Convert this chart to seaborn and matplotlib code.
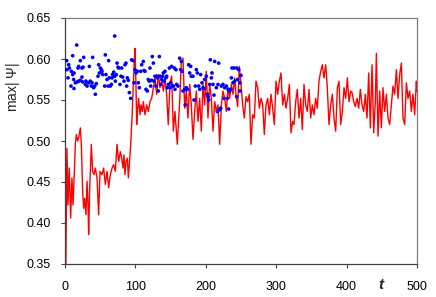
import matplotlib
matplotlib.use("Agg")
import matplotlib.pyplot as plt
import seaborn as sns

# red curve: max|Psi| versus t
t_red = [0, 1, 2.8, 4.2, 6.1, 8.0, 9.9, 11.4, 12.8, 14.7,
         16.1, 18.0, 19.4, 21.8, 23.2, 25.1, 26.5, 27.9, 29.8, 31.3,
         32.7, 33.6, 35.0, 37.4, 39.3, 41.2, 43.1, 45.5, 47.8, 49.7,
         52.6, 54.9, 57.3, 59.7, 62.0, 64.4, 66.8, 69.1, 71.5, 73.9,
         76.2, 78.6, 80.5, 82.4, 83.8, 85.2, 86.7, 88.6, 90.0, 91.4,
         93.3, 95.2, 97.0, 98.4, 99.4, 100.8, 101.8, 103.2, 104.6, 106.5,
         107.9, 109.8, 111.3, 113.6, 116.0, 118.4, 120.7, 123.1, 125.5, 127.8,
         130.2, 132.6, 134.9, 137.3, 139.7, 142.0, 144.4, 146.7, 149.1, 151.5,
         153.9, 156.2, 159.5, 162.9, 165.2, 167.6, 170.0, 172.3, 174.7, 177.1,
         179.4, 181.8, 184.2, 186.5, 188.9, 191.3, 193.6, 196.0, 198.4, 200.7,
         203.1, 205.5, 207.9, 210.2, 212.6, 215.0, 217.3, 219.7, 222.1, 224.4,
         226.8, 229.2, 231.5, 233.9, 236.3, 238.6, 241.0, 242.9, 245.3, 247.6,
         250.0, 252.4, 254.7, 257.1, 259.5, 261.8, 264.2, 266.6, 268.9, 271.3,
         273.7, 276.0, 278.4, 280.8, 283.1, 285.5, 287.9, 290.3, 292.6, 295.0,
         297.4, 299.7, 302.1, 304.5, 306.8, 309.2, 311.6, 313.9, 316.3, 318.7,
         321.0, 323.4, 325.3, 327.7, 330.0, 332.4, 334.8, 337.1, 339.5, 341.9,
         344.2, 346.6, 349.0, 351.3, 353.7, 356.1, 358.4, 360.8, 363.2, 365.5,
         367.9, 370.3, 372.6, 375.0, 377.4, 379.8, 382.1, 384.5, 386.9, 389.2,
         391.6, 394.0, 396.3, 398.7, 401.1, 403.4, 405.8, 407.7, 410.1, 412.4,
         414.8, 417.2, 419.5, 421.9, 424.3, 426.6, 429.0, 431.4, 433.7, 436.1,
         438.5, 440.8, 442.3, 444.6, 447.0, 449.4, 451.7, 454.1, 456.5, 458.8,
         461.2, 463.6, 465.9, 468.3, 470.7, 473.0, 475.4, 477.8, 480.1, 482.5,
         484.9, 487.2, 489.6, 492.0, 494.3, 496.7, 499.1, 500]
psi_red = [0.660, 0.330, 0.491, 0.422, 0.467, 0.406, 0.455, 0.422, 0.451, 0.496,
           0.508, 0.500, 0.504, 0.516, 0.496, 0.439, 0.418, 0.430, 0.410, 0.451,
           0.422, 0.386, 0.439, 0.496, 0.463, 0.459, 0.467, 0.455, 0.410, 0.463,
           0.459, 0.467, 0.447, 0.463, 0.443, 0.459, 0.467, 0.471, 0.463, 0.496,
           0.475, 0.487, 0.479, 0.467, 0.483, 0.459, 0.475, 0.479, 0.455, 0.471,
           0.496, 0.528, 0.569, 0.597, 0.613, 0.569, 0.520, 0.540, 0.552, 0.532,
           0.544, 0.536, 0.548, 0.532, 0.544, 0.536, 0.548, 0.552, 0.565, 0.577,
           0.557, 0.581, 0.565, 0.573, 0.561, 0.577, 0.557, 0.520, 0.569, 0.579,
           0.512, 0.536, 0.496, 0.548, 0.597, 0.601, 0.540, 0.561, 0.528, 0.569,
           0.544, 0.502, 0.536, 0.561, 0.524, 0.552, 0.512, 0.569, 0.544, 0.585,
           0.528, 0.569, 0.552, 0.512, 0.548, 0.536, 0.544, 0.496, 0.544, 0.561,
           0.552, 0.536, 0.565, 0.552, 0.569, 0.557, 0.577, 0.557, 0.542, 0.591,
           0.569, 0.544, 0.528, 0.554, 0.548, 0.557, 0.496, 0.532, 0.528, 0.573,
           0.565, 0.540, 0.552, 0.544, 0.508, 0.544, 0.552, 0.532, 0.557, 0.540,
           0.520, 0.573, 0.557, 0.573, 0.583, 0.544, 0.557, 0.540, 0.552, 0.569,
           0.510, 0.524, 0.520, 0.548, 0.563, 0.528, 0.552, 0.514, 0.569, 0.544,
           0.536, 0.563, 0.528, 0.544, 0.532, 0.552, 0.540, 0.573, 0.585, 0.593,
           0.577, 0.593, 0.565, 0.520, 0.544, 0.557, 0.528, 0.512, 0.565, 0.573,
           0.520, 0.536, 0.565, 0.552, 0.577, 0.548, 0.561, 0.559, 0.548, 0.542,
           0.552, 0.540, 0.563, 0.544, 0.536, 0.557, 0.528, 0.583, 0.516, 0.593,
           0.510, 0.548, 0.607, 0.506, 0.561, 0.516, 0.565, 0.536, 0.557, 0.528,
           0.520, 0.544, 0.567, 0.557, 0.587, 0.552, 0.581, 0.595, 0.528, 0.520,
           0.571, 0.552, 0.561, 0.536, 0.557, 0.532, 0.573, 0.560]

# blue dots
t_dots = [2.4, 5.2, 6.2, 2.8, 9.0, 4.3, 10.9, 12.8, 12.3, 14.7,
          16.6, 10.9, 8.5, 12.8, 17.0, 19.4, 21.8, 18.5, 19.4, 21.8,
          24.1, 25.6, 26.5, 24.1, 25.1, 28.9, 29.8, 31.3, 33.6, 34.6,
          36.0, 37.4, 38.4, 39.3, 40.7, 42.1, 43.1, 44.5, 46.9, 47.8,
          48.8, 50.2, 51.6, 52.6, 53.5, 56.3, 57.3, 58.2, 59.7, 61.1,
          62.0, 63.0, 64.4, 65.8, 66.8, 67.7, 69.1, 70.6, 70.6, 71.5,
          72.9, 73.9, 75.3, 76.2,
          78.1, 79.5, 80.5, 81.9, 83.8, 85.2, 86.6, 87.6, 88.5, 89.9,
          91.4, 93.3, 94.7, 97.0, 98.0, 99.4, 100.8, 102.7, 104.1, 105.6,
          107.5, 108.9, 111.2, 112.2, 113.6, 115.0, 116.9, 118.3, 119.8, 120.7,
          121.7, 123.1, 124.0, 125.5, 126.4, 127.8, 129.2, 130.2, 131.1, 132.6,
          134.0, 134.9, 135.9, 137.3, 138.7, 139.7, 140.6, 142.0, 143.4, 144.4,
          145.3, 146.8, 148.2, 149.1, 150.1, 151.5, 152.9, 153.9, 155.3, 156.2,
          157.6, 158.6,
          162.9, 165.2, 164.3, 166.2, 160.5, 167.6, 170.0, 172.3, 170.9, 173.8,
          175.7, 178.5, 177.1, 179.4, 181.8, 183.2, 185.1, 186.5, 188.0, 189.9,
          191.3, 192.7, 194.6, 196.0, 197.4, 198.4, 200.7, 202.2, 203.1, 204.1,
          205.5, 206.4, 207.9, 208.8, 210.2, 211.6, 212.6, 215.0, 216.4, 217.3,
          218.3, 219.7, 221.1, 222.1, 224.4, 225.8, 226.8, 229.2, 230.6, 231.5,
          232.5, 233.9, 235.3, 236.3, 237.2, 238.6, 240.0, 241.0,
          243.8, 246.7, 245.3, 248.6, 250.0, 243.8, 248.6]
psi_dots = [0.598, 0.593, 0.589, 0.587, 0.585, 0.577, 0.581, 0.583, 0.575, 0.571,
            0.617, 0.604, 0.567, 0.564, 0.572, 0.573, 0.574, 0.589, 0.591, 0.598,
            0.589, 0.590, 0.602, 0.578, 0.572, 0.569, 0.573, 0.567, 0.571, 0.591,
            0.573, 0.567, 0.571, 0.602, 0.565, 0.567, 0.557, 0.570, 0.579, 0.593,
            0.583, 0.589, 0.587, 0.585, 0.581, 0.567, 0.605, 0.581, 0.575, 0.567,
            0.598, 0.577, 0.567, 0.569, 0.577, 0.581, 0.584, 0.628, 0.579, 0.573,
            0.581, 0.595, 0.590, 0.589,
            0.569, 0.579, 0.589, 0.578, 0.573, 0.593, 0.595, 0.567, 0.577, 0.574,
            0.559, 0.552, 0.599, 0.598, 0.571, 0.587, 0.583, 0.585, 0.571, 0.565,
            0.585, 0.593, 0.597, 0.586, 0.585, 0.563, 0.561, 0.575, 0.573, 0.589,
            0.567, 0.574, 0.603, 0.595, 0.573, 0.579, 0.567, 0.579, 0.577, 0.561,
            0.603, 0.579, 0.569, 0.575, 0.579, 0.583, 0.573, 0.585, 0.577, 0.579,
            0.565, 0.569, 0.589, 0.565, 0.571, 0.591, 0.567, 0.567, 0.589, 0.563,
            0.587, 0.569,
            0.601, 0.597, 0.587, 0.585, 0.567, 0.561, 0.563, 0.565, 0.544, 0.563,
            0.593, 0.591, 0.583, 0.579, 0.579, 0.550, 0.567, 0.587, 0.583, 0.567,
            0.563, 0.581, 0.571, 0.565, 0.564, 0.575, 0.579, 0.557, 0.554, 0.550,
            0.569, 0.599, 0.577, 0.583, 0.569, 0.556, 0.597, 0.565, 0.536, 0.569,
            0.595, 0.538, 0.540, 0.567, 0.569, 0.552, 0.565, 0.567, 0.552, 0.563,
            0.539, 0.561, 0.563, 0.577, 0.589, 0.571, 0.589, 0.573,
            0.589, 0.587, 0.575, 0.571, 0.580, 0.554, 0.561]

x_ticks = [0, 100, 200, 300, 400, 500]
y_ticks = [0.35, 0.40, 0.45, 0.50, 0.55, 0.60, 0.65]

sns.set_style("ticks")
plt.rcParams["font.family"] = ["Liberation Sans", "DejaVu Sans"]
plt.rcParams["mathtext.fontset"] = "custom"
plt.rcParams["mathtext.rm"] = "Liberation Sans"
plt.rcParams["mathtext.it"] = "Liberation Sans:italic"

fig = plt.figure(figsize=(4.36, 2.97), dpi=100)
ax = fig.add_axes([65 / 436, 33 / 297, 352 / 436, 246 / 297])

sns.lineplot(x=t_red, y=psi_red, ax=ax, color="#ff0000", linewidth=1.0,
             estimator=None, sort=False, zorder=2)
sns.scatterplot(x=t_dots, y=psi_dots, ax=ax, color="#0000ff", s=7,
                edgecolor="none", linewidth=0, zorder=3)

ax.set_xlim(0, 500)
ax.set_ylim(0.35, 0.65)
ax.set_xticks(x_ticks)
ax.set_yticks(y_ticks)
ax.set_yticklabels([f"{v:.2f}" for v in y_ticks])
ax.tick_params(axis="both", direction="out", length=3, width=0.8,
               color="#404040", labelsize=9, labelcolor="black")
ax.tick_params(axis="y", pad=7)
ax.tick_params(axis="x", pad=9)

for side in ["left", "bottom"]:
    ax.spines[side].set_color("#404040")
    ax.spines[side].set_linewidth(0.9)
for side in ["top", "right"]:
    ax.spines[side].set_visible(True)
    ax.spines[side].set_color("#7f7f7f")
    ax.spines[side].set_linewidth(0.9)

ax.set_xlabel("")
ax.set_ylabel("")
fig.text(13 / 436, 1 - 87 / 297, r"max| $\mathit{Ψ}$|", rotation=90,
         ha="center", va="center", fontsize=10)
ax.text(0.898, -0.085, "t", transform=ax.transAxes, ha="center", va="center",
        fontsize=11, fontstyle="italic", fontweight="bold")

fig.savefig("out.png", dpi=100)
